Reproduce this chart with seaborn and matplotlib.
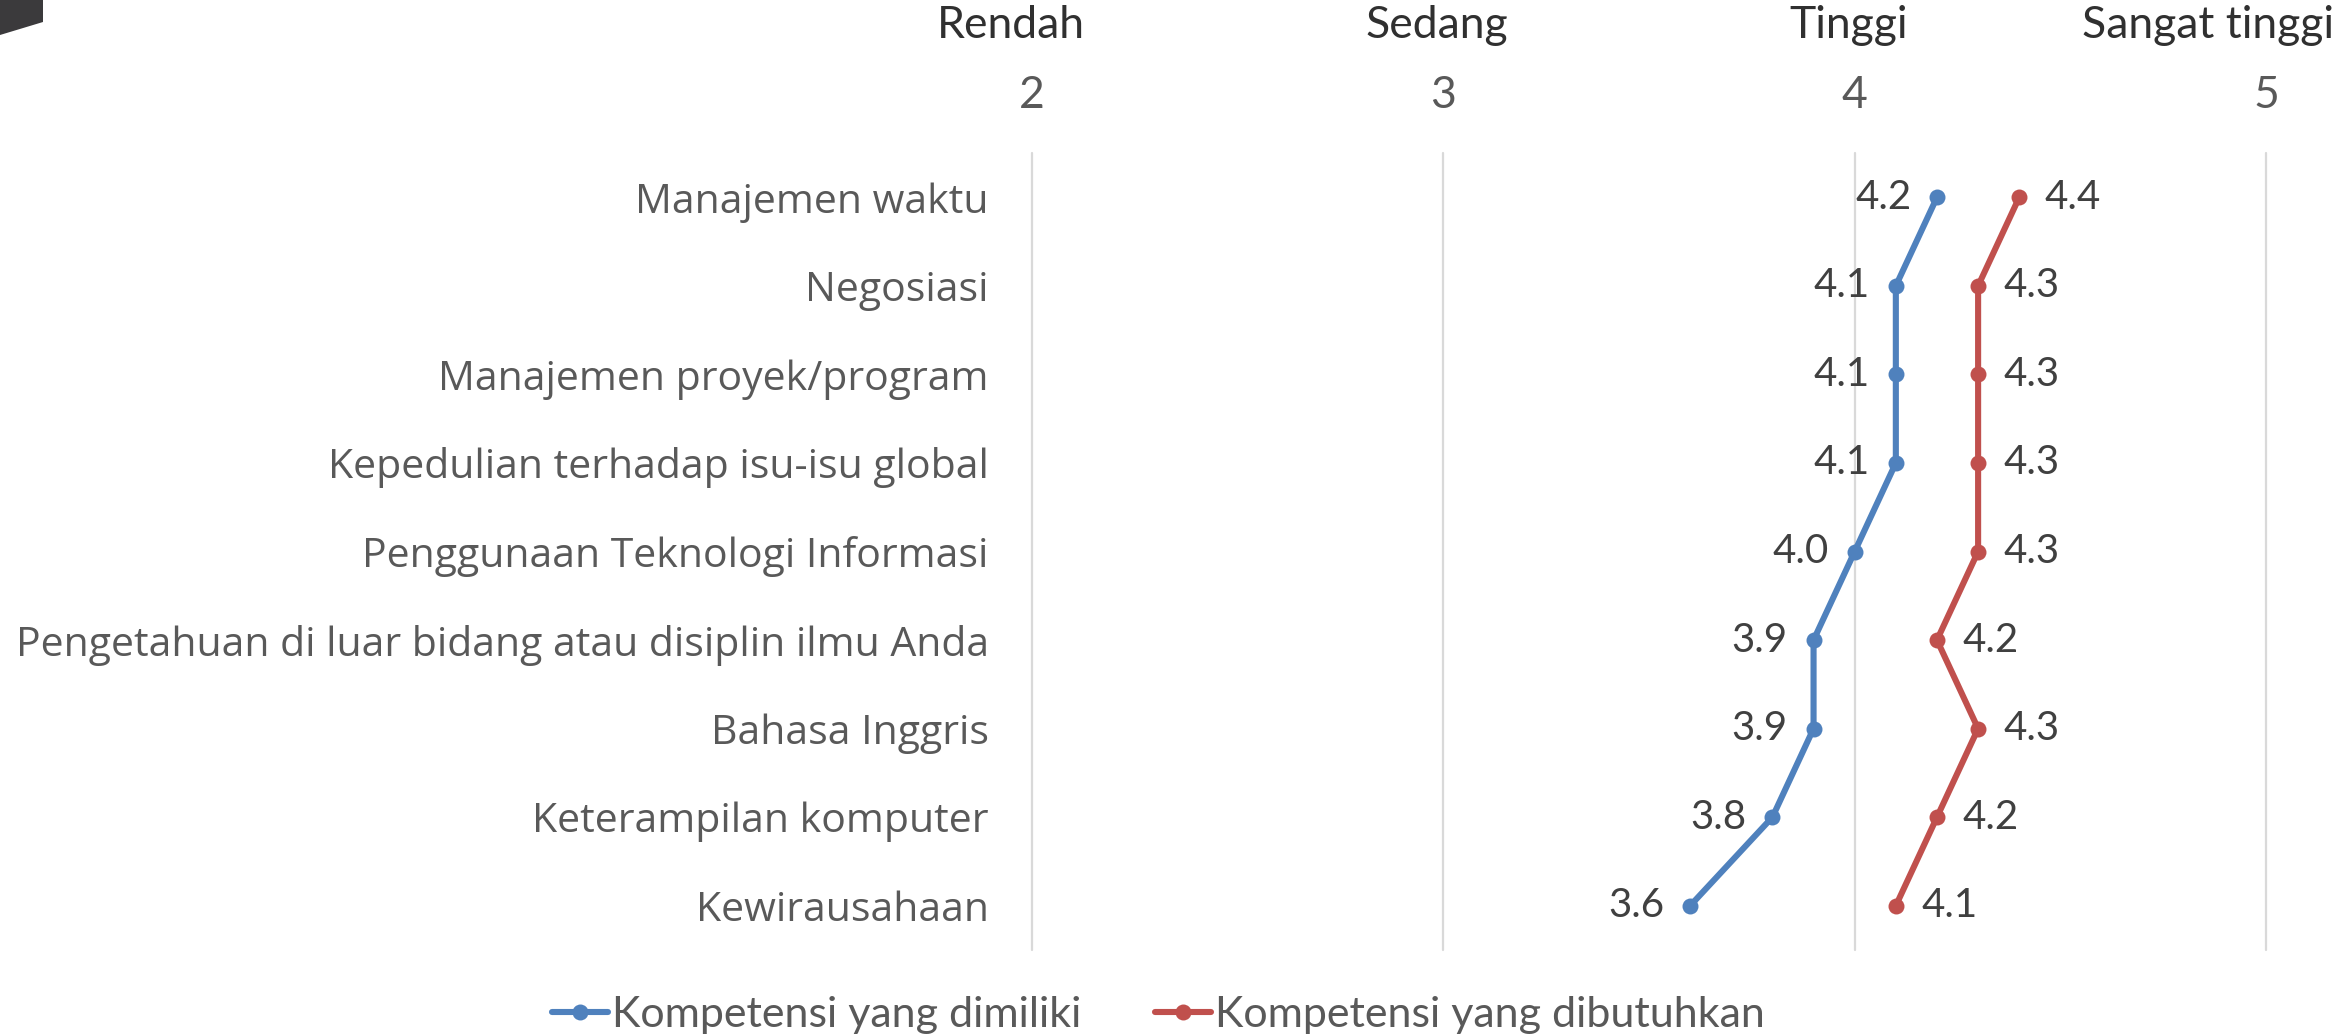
import matplotlib
matplotlib.use("Agg")
import matplotlib.pyplot as plt
import matplotlib.transforms as mtransforms
from matplotlib.patches import Polygon
import seaborn as sns
import pandas as pd

# Skills, top to bottom
kompetensi = [
    "Manajemen waktu",
    "Negosiasi",
    "Manajemen proyek/program",
    "Kepedulian terhadap isu-isu global",
    "Penggunaan Teknologi Informasi",
    "Pengetahuan di luar bidang atau disiplin ilmu Anda",
    "Bahasa Inggris",
    "Keterampilan komputer",
    "Kewirausahaan",
]
dimiliki = [4.2, 4.1, 4.1, 4.1, 4.0, 3.9, 3.9, 3.8, 3.6]
dibutuhkan = [4.4, 4.3, 4.3, 4.3, 4.3, 4.2, 4.3, 4.2, 4.1]
seri = ["Kompetensi yang dimiliki", "Kompetensi yang dibutuhkan"]

skala_nilai = [2, 3, 4, 5]
skala_label = ["Rendah", "Sedang", "Tinggi", "Sangat tinggi"]

BLUE = "#4F81BD"
RED = "#C0504D"
GREY_TXT = "#595959"
DARK_TXT = "#404040"
FONT = "Lato"
LABEL_FONT = "Open Sans"

df = pd.DataFrame({
    "kompetensi": kompetensi * 2,
    "pos": list(range(len(kompetensi))) * 2,
    "nilai": dimiliki + dibutuhkan,
    "jenis": [seri[0]] * len(kompetensi) + [seri[1]] * len(kompetensi),
})

sns.set_theme(style="white")
plt.rcParams["font.family"] = [FONT, "DejaVu Sans"]

fig = plt.figure(figsize=(23.41, 10.36), dpi=100)
ax = fig.add_axes([0.4408, 0.0830, 0.5272, 0.7693])

sns.lineplot(
    data=df, x="nilai", y="pos", hue="jenis", hue_order=seri,
    palette=[BLUE, RED], orient="y", sort=False, estimator=None,
    marker="o", markersize=11.5, markeredgewidth=0, linewidth=4.4,
    legend=False, ax=ax,
)
handles = list(ax.lines[:2])

# value labels: owned competence to the left, required to the right
for vals, side in ((dimiliki, -1), (dibutuhkan, 1)):
    for i, v in enumerate(vals):
        ax.annotate(
            f"{v:.1f}", xy=(v, i), xytext=(18.5 * side, 0),
            textcoords="offset points", ha="right" if side < 0 else "left",
            va="center", fontsize=29, color=DARK_TXT, family=FONT,
        )

# vertical gridlines at each scale value
for x in skala_nilai:
    ax.axvline(x, color="#D9D9D9", lw=1.6, zorder=0, clip_on=False)

ax.set_xlim(2, 5)
ax.set_ylim(len(kompetensi) - 0.5, -0.5)
ax.set_xticks(skala_nilai)
ax.set_xticklabels([str(v) for v in skala_nilai])
ax.xaxis.tick_top()
ax.tick_params(axis="x", length=0, pad=27, labelsize=32, labelcolor=GREY_TXT)
ax.set_yticks(range(len(kompetensi)))
ax.set_yticklabels(kompetensi, family=LABEL_FONT)
ax.tick_params(axis="y", length=0, pad=31, labelsize=29.5, labelcolor=GREY_TXT)
ax.set_xlabel("")
ax.set_ylabel("")
for s in ax.spines.values():
    s.set_visible(False)

# scale names above the numeric ticks
skala_geser = [-0.05, -0.015, -0.014, -0.14]
top_tr = mtransforms.blended_transform_factory(ax.transData, fig.transFigure)
for v, lab, dx in zip(skala_nilai, skala_label, skala_geser):
    ax.text(v + dx, 0.975, lab, transform=top_tr,
            ha="center", va="center", fontsize=32, color="#303030", family=FONT)

fig.legend(
    handles, seri, loc="center", bbox_to_anchor=(0.4948, 0.020), ncol=2,
    frameon=False, fontsize=31, handlelength=1.3, handletextpad=0.1,
    columnspacing=1.7, labelcolor=GREY_TXT,
)

# dark corner shape at top left
fig.patches.append(Polygon(
    [(0, 1036), (43, 1036), (43, 1014), (0, 1001)], closed=True,
    transform=mtransforms.Affine2D().scale(1 / 2341, 1 / 1036) + fig.transFigure,
    facecolor="#3B3A3C", edgecolor="none",
))

fig.savefig("out.png", dpi=100)
